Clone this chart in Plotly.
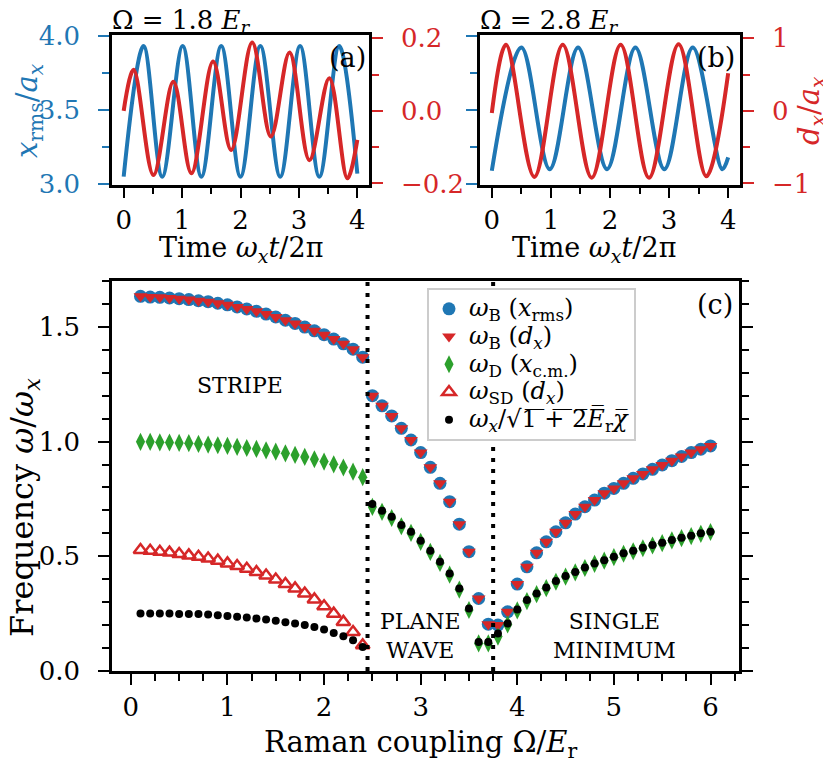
import plotly.graph_objects as go

# ---------------- data: panel (c) ----------------
raman_coupling = [0.1, 0.2, 0.3, 0.4, 0.5, 0.6, 0.7, 0.8, 0.9, 1.0,
                  1.1, 1.2, 1.3, 1.4, 1.5, 1.6, 1.7, 1.8, 1.9, 2.0,
                  2.1, 2.2, 2.3, 2.4, 2.5, 2.6, 2.7, 2.8, 2.9, 3.0,
                  3.1, 3.2, 3.3, 3.4, 3.5, 3.6, 3.7, 3.8, 3.9, 4.0,
                  4.1, 4.2, 4.3, 4.4, 4.5, 4.6, 4.7, 4.8, 4.9, 5.0,
                  5.1, 5.2, 5.3, 5.4, 5.5, 5.6, 5.7, 5.8, 5.9, 6.0]

omega_B_xrms = [1.633, 1.630, 1.629, 1.626, 1.623, 1.619, 1.614, 1.610, 1.603, 1.596,
                1.587, 1.578, 1.568, 1.556, 1.543, 1.529, 1.515, 1.499, 1.483, 1.466,
                1.447, 1.426, 1.403, 1.368,
                1.200, 1.156, 1.112, 1.058, 1.007, 0.952, 0.888, 0.818, 0.738, 0.640,
                0.520, 0.316, 0.204,
                0.200, 0.258, 0.379, 0.454, 0.515, 0.563, 0.607, 0.646, 0.684, 0.716,
                0.745, 0.775, 0.796, 0.818, 0.840, 0.859, 0.879, 0.898, 0.917, 0.935,
                0.952, 0.967, 0.981]

omega_B_dx = [1.633, 1.630, 1.629, 1.626, 1.623, 1.619, 1.614, 1.610, 1.603, 1.596,
              1.587, 1.578, 1.568, 1.556, 1.543, 1.529, 1.515, 1.499, 1.483, 1.466,
              1.447, 1.426, 1.403, 1.368,
              1.200, 1.156, 1.112, 1.058, 1.007, 0.952, 0.888, 0.818, 0.738, 0.640,
              0.520, 0.316, 0.204,
              0.200, 0.258, 0.379, 0.454, 0.515, 0.563, 0.607, 0.646, 0.684, 0.716,
              0.745, 0.775, 0.796, 0.818, 0.840, 0.859, 0.879, 0.898, 0.917, 0.935,
              0.952, 0.967, 0.981]

omega_D = [0.999, 0.999, 0.997, 0.996, 0.994, 0.993, 0.990, 0.987, 0.984, 0.981,
           0.977, 0.972, 0.968, 0.962, 0.956, 0.949, 0.942, 0.933, 0.923, 0.913,
           0.901, 0.887, 0.869, 0.845,
           0.715, 0.694, 0.667, 0.631, 0.602, 0.563, 0.519, 0.471, 0.420, 0.355,
           0.266, 0.120, 0.120,
           0.150, 0.203, 0.264, 0.305, 0.335, 0.361, 0.389, 0.411, 0.430, 0.449,
           0.467, 0.481, 0.496, 0.511, 0.522, 0.535, 0.547, 0.557, 0.569, 0.579,
           0.588, 0.598, 0.606]

raman_stripe = [0.1, 0.2, 0.3, 0.4, 0.5, 0.6, 0.7, 0.8, 0.9, 1.0,
                1.1, 1.2, 1.3, 1.4, 1.5, 1.6, 1.7, 1.8, 1.9, 2.0,
                2.1, 2.2, 2.3, 2.4]
omega_SD = [0.527, 0.524, 0.520, 0.516, 0.510, 0.504, 0.498, 0.490, 0.481, 0.469,
            0.458, 0.446, 0.431, 0.416, 0.399, 0.379, 0.360, 0.338, 0.312, 0.282,
            0.250, 0.214, 0.170, 0.112]

omega_chi = [0.251, 0.251, 0.251, 0.251, 0.249, 0.249, 0.248, 0.246, 0.243, 0.240,
             0.236, 0.233, 0.229, 0.224, 0.219, 0.213, 0.207, 0.200, 0.192, 0.181,
             0.166, 0.152, 0.134, 0.105,
             0.728, 0.699, 0.672, 0.636, 0.607, 0.568, 0.524, 0.476, 0.425, 0.360,
             0.272, 0.126, 0.126,
             0.163, 0.207, 0.268, 0.309, 0.338, 0.364, 0.392, 0.414, 0.432, 0.451,
             0.469, 0.483, 0.498, 0.513, 0.524, 0.537, 0.549, 0.559, 0.571, 0.581,
             0.590, 0.600, 0.607]

phase_boundaries = [2.45, 3.75]

# ---------------- data: panels (a), (b) (extrema) ----------------
t_a_xrms = [0.0, 0.34, 0.66, 1.01, 1.33, 1.67, 2.00, 2.34, 2.68, 3.02, 3.35, 3.69, 4.0]
xrms_a = [3.05, 3.93, 3.05, 3.93, 3.05, 3.93, 3.05, 3.93, 3.05, 3.93, 3.05, 3.93, 3.07]

t_a_dx = [0.0, 0.17, 0.51, 0.85, 1.16, 1.53, 1.84, 2.20, 2.52, 2.84, 3.18, 3.52, 3.83, 4.0]
dx_a = [0.0, 0.113, -0.177, 0.080, -0.172, 0.136, -0.108, 0.188, -0.071, 0.161,
        -0.136, 0.090, -0.186, -0.08]

t_b_xrms = [0.0, 0.50, 0.98, 1.46, 1.95, 2.43, 2.92, 3.40, 3.90, 4.0]
xrms_b = [3.09, 3.92, 3.10, 3.92, 3.10, 3.92, 3.10, 3.92, 3.10, 3.18]

t_b_dx = [0.0, 0.24, 0.72, 1.20, 1.69, 2.18, 2.66, 3.16, 3.63, 4.0]
dx_b = [-0.03, 0.91, -0.91, 0.91, -0.92, 0.91, -0.92, 0.92, -0.90, 0.52]

# ---------------- style ----------------
FONT = "DejaVu Serif"
BLUE = "#1f77b4"
RED = "#d62728"
GREEN = "#2ca02c"
OFF = 8            # page body margin of the HTML page
W, H = 815, 754    # figure size so that figure + body margins fit the window
TICKF = 26
LEGF = 24
OV = "\u0305"      # combining overline (vinculum of the square root)
GAP = "\u2002"     # en space: extra room between tick labels and ticks


def fx(p):
    return (p - OFF) / W


def fy(p):
    return 1 - (p - OFF) / H


def leg(s):
    return "<span style='font-size:%dpx'>%s</span>" % (LEGF, s)


sqrt_label = ("<i>ω<sub>x</sub></i>/√" + "1" + OV + " " + OV + "+" + OV + " " + OV + "2" + OV
              + "<i>E" + OV + "</i><sub>r</sub><i>χ" + OV + "</i>")

fig = go.Figure()

# panel (c) traces
fig.add_trace(go.Scatter(x=raman_coupling, y=omega_B_xrms, mode="markers", xaxis="x", yaxis="y",
                         marker=dict(symbol="circle", size=13, color=BLUE),
                         name=leg("<i>ω</i><sub>B</sub> (<i>x</i><sub>rms</sub>)")))
fig.add_trace(go.Scatter(x=raman_coupling, y=omega_B_dx, mode="markers", xaxis="x", yaxis="y",
                         marker=dict(symbol="triangle-down", size=12, color=RED),
                         name=leg("<i>ω</i><sub>B</sub> (<i>d<sub>x</sub></i>)")))
fig.add_trace(go.Scatter(x=raman_coupling, y=omega_D, mode="markers", xaxis="x", yaxis="y",
                         marker=dict(symbol="diamond-tall", size=13, color=GREEN),
                         name=leg("<i>ω</i><sub>D</sub> (<i>x</i><sub>c.m.</sub>)")))
fig.add_trace(go.Scatter(x=raman_stripe, y=omega_SD, mode="markers", xaxis="x", yaxis="y",
                         marker=dict(symbol="triangle-up-open", size=12, color=RED,
                                     line=dict(width=2.5, color=RED)),
                         name=leg("<i>ω</i><sub>SD</sub> (<i>d<sub>x</sub></i>)")))
fig.add_trace(go.Scatter(x=raman_coupling, y=omega_chi, mode="markers", xaxis="x", yaxis="y",
                         marker=dict(symbol="circle", size=8, color="black"),
                         name=leg(sqrt_label)))

# panels (a) and (b)
line_kw = dict(shape="spline", smoothing=1.0, width=4)
fig.add_trace(go.Scatter(x=t_a_xrms, y=xrms_a, mode="lines", xaxis="x2", yaxis="y2",
                         line=dict(color=BLUE, **line_kw), showlegend=False))
fig.add_trace(go.Scatter(x=t_a_dx, y=dx_a, mode="lines", xaxis="x2", yaxis="y3",
                         line=dict(color=RED, **line_kw), showlegend=False))
fig.add_trace(go.Scatter(x=t_b_xrms, y=xrms_b, mode="lines", xaxis="x3", yaxis="y4",
                         line=dict(color=BLUE, **line_kw), showlegend=False))
fig.add_trace(go.Scatter(x=t_b_dx, y=dx_b, mode="lines", xaxis="x3", yaxis="y5",
                         line=dict(color=RED, **line_kw), showlegend=False))


def axis(color="black", **kw):
    d = dict(ticks="outside", ticklen=11, tickwidth=2, tickcolor=color,
             showline=True, linewidth=2.5, linecolor="black", showgrid=False,
             zeroline=False, automargin=False,
             tickfont=dict(family=FONT, size=TICKF, color=color))
    d.update(kw)
    return d


def minor(dt, color="black"):
    return dict(dtick=dt, ticks="outside", ticklen=7, tickwidth=2, tickcolor=color, showgrid=False)


top_dom = [fy(184.5), fy(35)]

fig.update_layout(
    width=W, height=H, autosize=False,
    margin=dict(l=0, r=0, t=0, b=0),
    paper_bgcolor="white", plot_bgcolor="white",
    font=dict(family=FONT, size=24, color="black"),
    xaxis=axis(domain=[fx(112), fx(739)], anchor="y", range=[-0.195, 6.295],
               tick0=0, dtick=1, minor=minor(0.25), mirror=True),
    yaxis=axis(domain=[fy(671), fy(281)], anchor="x", range=[0, 1.7],
               tick0=0, dtick=0.5, tickformat=".1f", minor=minor(0.1), mirror="allticks",
               ticksuffix=GAP),
    xaxis2=axis(domain=[fx(112), fx(369)], anchor="y2", range=[-0.2, 4.2],
                tick0=0, dtick=1, minor=minor(0.5), mirror=True),
    yaxis2=axis(color=BLUE, domain=top_dom, anchor="x2", range=[2.997, 4.005],
                tick0=3, dtick=0.5, tickformat=".1f", minor=minor(0.25, BLUE),
                ticksuffix=GAP),
    yaxis3=axis(color=RED, domain=top_dom, anchor="x2", overlaying="y2", side="right",
                range=[-0.203, 0.209], tick0=0, dtick=0.2, tickformat=".1f",
                minor=minor(0.1, RED), tickprefix=GAP),
    xaxis3=axis(domain=[fx(480), fx(740)], anchor="y4", range=[-0.2, 4.2],
                tick0=0, dtick=1, minor=minor(0.5), mirror=True),
    yaxis4=axis(color=BLUE, domain=top_dom, anchor="x3", range=[2.997, 4.005],
                tick0=3, dtick=0.5, showticklabels=False, minor=minor(0.25, BLUE)),
    yaxis5=axis(color=RED, domain=top_dom, anchor="x3", overlaying="y4", side="right",
                range=[-1.014, 1.046], tick0=0, dtick=1, minor=minor(0.5, RED),
                tickprefix=GAP),
    legend=dict(x=fx(427), y=fy(288), xanchor="left", yanchor="top",
                bgcolor="white", bordercolor="#cccccc", borderwidth=2,
                font=dict(family=FONT, size=19, color="black"),
                traceorder="normal"),
)

# phase boundaries
for xb in phase_boundaries:
    fig.add_shape(type="line", xref="x", yref="y", x0=xb, x1=xb, y0=0, y1=1.7,
                  line=dict(color="black", width=4, dash="4px,7px"))


def ann(text, x, y, size, color="black", angle=0, xanchor="center"):
    fig.add_annotation(text=text, x=fx(x), y=fy(y), xref="paper", yref="paper",
                       showarrow=False, xanchor=xanchor, yanchor="middle", textangle=angle,
                       font=dict(family=FONT, size=size, color=color))


ann("Ω = 1.8 <i>E<sub>r</sub></i>", 110, 21, 26, xanchor="left")
ann("Ω = 2.8 <i>E<sub>r</sub></i>", 478, 21, 26, xanchor="left")
ann("(a)", 368, 57, 27, xanchor="right")
ann("(b)", 737, 57, 27, xanchor="right")
ann("(c)", 735, 304, 27, xanchor="right")
ann("Time <i>ω<sub>x</sub>t</i>/2π", 241, 249, 27)
ann("Time <i>ω<sub>x</sub>t</i>/2π", 594, 249, 27)
ann("Raman coupling Ω/<i>E</i><sub>r</sub>", 421, 744, 29)
ann("Frequency <i>ω</i>/<i>ω<sub>x</sub></i>", 24, 508, 32, angle=-90)
ann("<i>x</i><sub>rms</sub>/<i>a<sub>x</sub></i>", 29, 111, 29, color=BLUE, angle=-90)
ann("<i>d<sub>x</sub></i>/<i>a<sub>x</sub></i>", 811, 111, 29, color=RED, angle=-90)
ann("STRIPE", 240, 385, 22)
ann("PLANE<br>WAVE", 420, 636, 22)
ann("SINGLE<br>MINIMUM", 614, 636, 22)

fig.write_html("out.html")
